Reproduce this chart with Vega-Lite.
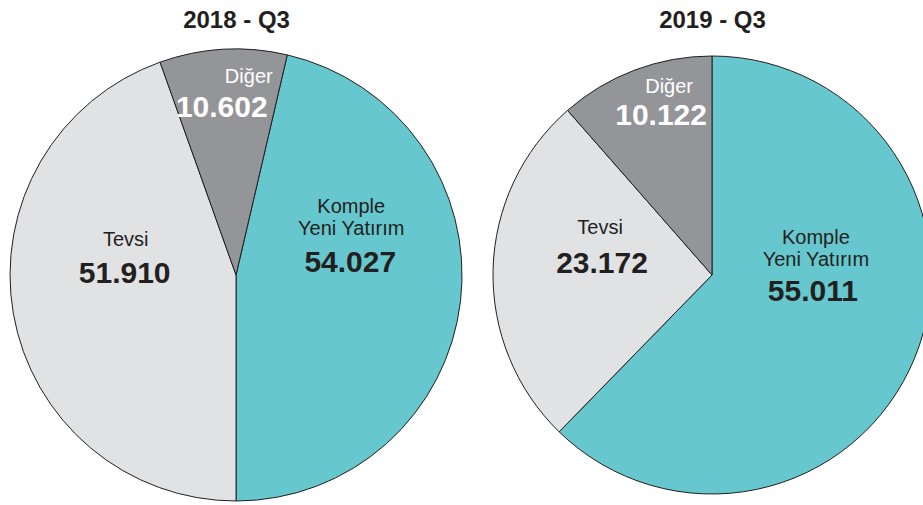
{
  "$schema": "https://vega.github.io/schema/vega-lite/v6.json",
  "width": 923,
  "height": 460,
  "autosize": {"type": "none"},
  "padding": {"left": 0, "right": 0, "top": 45, "bottom": 0},
  "background": "white",
  "config": {"view": {"stroke": null}, "font": "Liberation Sans"},
  "data": {
    "values": [
      {"yil": "2018 - Q3", "kat": "Komple Yeni Yatırım", "ad": "Komple\nYeni Yatırım", "deger": 54.027, "sira": 1},
      {"yil": "2018 - Q3", "kat": "Tevsi", "ad": "Tevsi", "deger": 51.910, "sira": 2},
      {"yil": "2018 - Q3", "kat": "Diğer", "ad": "Diğer", "deger": 10.602, "sira": 3},
      {"yil": "2019 - Q3", "kat": "Komple Yeni Yatırım", "ad": "Komple\nYeni Yatırım", "deger": 55.011, "sira": 1},
      {"yil": "2019 - Q3", "kat": "Tevsi", "ad": "Tevsi", "deger": 23.172, "sira": 2},
      {"yil": "2019 - Q3", "kat": "Diğer", "ad": "Diğer", "deger": 10.122, "sira": 3}
    ]
  },
  "encoding": {
    "x": {
      "field": "yil", "type": "nominal",
      "scale": {"type": "point", "domain": ["2018 - Q3", "2019 - Q3"], "padding": 0.4696, "align": 0.528},
      "axis": {"orient": "top", "title": null, "domain": false, "ticks": false, "tickSize": 0, "grid": false,
               "labelAngle": 0, "labelFontSize": 24, "labelFontWeight": "bold", "labelColor": "#231f20",
               "labelFont": "Liberation Sans", "labelPadding": 13}
    }
  },
  "resolve": {"scale": {"theta": "independent"}},
  "layer": [
    {
      "transform": [{"filter": "datum.yil === '2018 - Q3'"}],
      "encoding": {
        "theta": {"field": "deger", "type": "quantitative", "stack": true, "scale": {"range": [0.228729, 6.511914]}},
        "order": {"field": "sira", "type": "quantitative"},
        "detail": {"field": "kat", "type": "nominal"}
      },
      "layer": [
        {
          "mark": {"type": "arc", "radius": 226, "stroke": "#231f20", "strokeWidth": 1},
          "encoding": {
            "color": {"field": "kat", "type": "nominal", "legend": null,
                      "scale": {"domain": ["Komple Yeni Yatırım", "Tevsi", "Diğer"], "range": ["#66c7ce", "#e1e2e4", "#939598"]}}
          }
        },
        {
          "mark": {"type": "text", "radius": 115, "dx": 1, "dy": -75, "fontSize": 20, "color": "#231f20", "lineBreak": "\n", "lineHeight": 22, "align": "center", "baseline": "alphabetic"},
          "encoding": {"text": {"condition": {"test": "datum.kat === 'Komple Yeni Yatırım'", "field": "ad", "type": "nominal"}, "value": ""}}
        },
        {
          "mark": {"type": "text", "radius": 115, "dx": 0, "dy": -16, "fontSize": 30, "fontWeight": "bold", "color": "#231f20", "align": "center", "baseline": "alphabetic"},
          "encoding": {"text": {"condition": {"test": "datum.kat === 'Komple Yeni Yatırım'", "field": "deger", "type": "quantitative", "format": ".3f"}, "value": ""}}
        },
        {
          "mark": {"type": "text", "radius": 112, "dx": 0, "dy": -48, "fontSize": 20, "color": "#231f20", "align": "center", "baseline": "alphabetic"},
          "encoding": {"text": {"condition": {"test": "datum.kat === 'Tevsi'", "field": "ad", "type": "nominal"}, "value": ""}}
        },
        {
          "mark": {"type": "text", "radius": 112, "dx": -1, "dy": -11, "fontSize": 30, "fontWeight": "bold", "color": "#231f20", "align": "center", "baseline": "alphabetic"},
          "encoding": {"text": {"condition": {"test": "datum.kat === 'Tevsi'", "field": "deger", "type": "quantitative", "format": ".3f"}, "value": ""}}
        },
        {
          "mark": {"type": "text", "radius": 180, "dx": 23, "dy": -12, "fontSize": 20, "color": "#ffffff", "align": "center", "baseline": "alphabetic"},
          "encoding": {"text": {"condition": {"test": "datum.kat === 'Diğer'", "field": "ad", "type": "nominal"}, "value": ""}}
        },
        {
          "mark": {"type": "text", "radius": 180, "dx": -4, "dy": 22, "fontSize": 30, "fontWeight": "bold", "color": "#ffffff", "align": "center", "baseline": "alphabetic"},
          "encoding": {"text": {"condition": {"test": "datum.kat === 'Diğer'", "field": "deger", "type": "quantitative", "format": ".3f"}, "value": ""}}
        }
      ]
    },
    {
      "transform": [{"filter": "datum.yil === '2019 - Q3'"}],
      "encoding": {
        "theta": {"field": "deger", "type": "quantitative", "stack": true, "scale": {"range": [0, 6.283185]}},
        "order": {"field": "sira", "type": "quantitative"},
        "detail": {"field": "kat", "type": "nominal"}
      },
      "layer": [
        {
          "mark": {"type": "arc", "radius": 219, "stroke": "#231f20", "strokeWidth": 1},
          "encoding": {
            "color": {"field": "kat", "type": "nominal", "legend": null,
                      "scale": {"domain": ["Komple Yeni Yatırım", "Tevsi", "Diğer"], "range": ["#66c7ce", "#e1e2e4", "#939598"]}}
          }
        },
        {
          "mark": {"type": "text", "radius": 110, "dx": 2, "dy": -72, "fontSize": 20, "color": "#231f20", "lineBreak": "\n", "lineHeight": 22, "align": "center", "baseline": "alphabetic"},
          "encoding": {"text": {"condition": {"test": "datum.kat === 'Komple Yeni Yatırım'", "field": "ad", "type": "nominal"}, "value": ""}}
        },
        {
          "mark": {"type": "text", "radius": 110, "dx": -1, "dy": -15, "fontSize": 30, "fontWeight": "bold", "color": "#231f20", "align": "center", "baseline": "alphabetic"},
          "encoding": {"text": {"condition": {"test": "datum.kat === 'Komple Yeni Yatırım'", "field": "deger", "type": "quantitative", "format": ".3f"}, "value": ""}}
        },
        {
          "mark": {"type": "text", "radius": 112, "dx": 0, "dy": -38, "fontSize": 20, "color": "#231f20", "align": "center", "baseline": "alphabetic"},
          "encoding": {"text": {"condition": {"test": "datum.kat === 'Tevsi'", "field": "ad", "type": "nominal"}, "value": ""}}
        },
        {
          "mark": {"type": "text", "radius": 112, "dx": 2, "dy": 1, "fontSize": 30, "fontWeight": "bold", "color": "#231f20", "align": "center", "baseline": "alphabetic"},
          "encoding": {"text": {"condition": {"test": "datum.kat === 'Tevsi'", "field": "deger", "type": "quantitative", "format": ".3f"}, "value": ""}}
        },
        {
          "mark": {"type": "text", "radius": 170, "dx": 17, "dy": -23, "fontSize": 20, "color": "#ffffff", "align": "center", "baseline": "alphabetic"},
          "encoding": {"text": {"condition": {"test": "datum.kat === 'Diğer'", "field": "ad", "type": "nominal"}, "value": ""}}
        },
        {
          "mark": {"type": "text", "radius": 170, "dx": 9, "dy": 9, "fontSize": 30, "fontWeight": "bold", "color": "#ffffff", "align": "center", "baseline": "alphabetic"},
          "encoding": {"text": {"condition": {"test": "datum.kat === 'Diğer'", "field": "deger", "type": "quantitative", "format": ".3f"}, "value": ""}}
        }
      ]
    }
  ]
}
